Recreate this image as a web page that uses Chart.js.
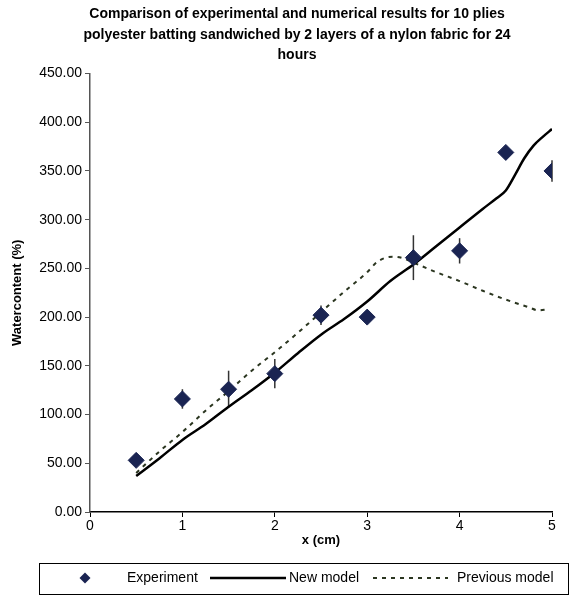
<!DOCTYPE html>
<html><head><meta charset="utf-8">
<script src="https://cdn.jsdelivr.net/npm/chart.js@4/dist/chart.umd.min.js"></script>
<style>html,body{margin:0;padding:0;background:#fff}#wrap{width:574px;height:596px}</style>
</head><body><div id="wrap"><canvas id="c" width="574" height="596"></canvas></div>
<script>
const titleLines = [
  'Comparison of experimental and numerical results for 10 plies',
  'polyester batting sandwiched by 2 layers of a nylon fabric for 24',
  'hours'
];
const xAxisTitle = 'x (cm)';
const yAxisTitle = 'Watercontent (%)';
const legendLabels = ['Experiment', 'New model', 'Previous model'];

const expX   = [0.5, 1, 1.5, 2, 2.5, 3, 3.5, 4, 4.5, 5];
const expY   = [53, 116, 126, 142, 202, 200, 261, 268, 369, 350];
const expErr = [0, 10, 19, 15, 10, 0, 23, 13, 0, 11];

const newX = [0.5, 0.75, 1, 1.25, 1.5, 1.75, 2, 2.25, 2.5, 2.75, 3, 3.25, 3.5, 3.75, 4, 4.25, 4.4, 4.5, 4.6, 4.7, 4.8, 4.9, 5];
const newY = [37, 55, 74, 90, 108, 125, 143, 163, 182, 198, 216, 237, 254, 273, 292, 311, 322, 330, 346, 363, 376, 385, 393];

const prevX = [0.5, 0.75, 1, 1.25, 1.5, 1.75, 2, 2.25, 2.5, 2.75, 3, 3.1, 3.2, 3.3, 3.4, 3.5, 3.75, 4, 4.25, 4.5, 4.75, 4.85, 4.95];
const prevY = [40, 62, 82, 104, 124, 145, 164, 184, 205, 226, 246, 256, 261, 262, 260, 256, 246, 237, 227, 218, 210, 207, 208];

const yMin = 0, yMax = 450, yStep = 50;
const xMin = 0, xMax = 5, xStep = 1;

const FONT = "'Liberation Sans', Arial, Helvetica, sans-serif";
const NAVY = '#1a2452';
const PREV = '#2b3620';

const pts = (xs, ys) => xs.map((x, i) => ({x: x, y: ys[i]}));

const errorBars = {
  id: 'errorBars',
  beforeDatasetsDraw(chart) {
    const {ctx, scales} = chart;
    ctx.save();
    ctx.strokeStyle = '#333';
    ctx.lineWidth = 1.5;
    expX.forEach((x, i) => {
      if (!expErr[i]) return;
      const px = scales.x.getPixelForValue(x);
      const y1 = scales.y.getPixelForValue(expY[i] - expErr[i]);
      const y2 = scales.y.getPixelForValue(expY[i] + expErr[i]);
      ctx.beginPath(); ctx.moveTo(px, y1); ctx.lineTo(px, y2); ctx.stroke();
    });
    ctx.restore();
  }
};

const titleBlock = {
  id: 'titleBlock',
  afterDraw(chart) {
    const ctx = chart.ctx;
    ctx.save();
    ctx.fillStyle = '#000';
    ctx.font = 'bold 14px ' + FONT;
    ctx.textAlign = 'center';
    ctx.textBaseline = 'middle';
    titleLines.forEach((t, i) => ctx.fillText(t, 297, 14.5 + i * 20.5));
    ctx.restore();
  }
};

const legendBox = {
  id: 'legendBox',
  afterDraw(chart) {
    const ctx = chart.ctx;
    const cy = 578;
    ctx.save();
    ctx.strokeStyle = '#000';
    ctx.lineWidth = 1;
    ctx.strokeRect(39.5, 563.5, 529, 31);
    ctx.fillStyle = NAVY;
    ctx.beginPath();
    ctx.moveTo(85, cy - 5.5); ctx.lineTo(90.5, cy); ctx.lineTo(85, cy + 5.5); ctx.lineTo(79.5, cy);
    ctx.closePath(); ctx.fill();
    ctx.strokeStyle = '#000'; ctx.lineWidth = 2.5;
    ctx.beginPath(); ctx.moveTo(210, cy); ctx.lineTo(286, cy); ctx.stroke();
    ctx.strokeStyle = PREV; ctx.lineWidth = 2; ctx.setLineDash([4, 5]);
    ctx.beginPath(); ctx.moveTo(373, cy); ctx.lineTo(448, cy); ctx.stroke();
    ctx.setLineDash([]);
    ctx.fillStyle = '#000';
    ctx.font = '14px ' + FONT;
    ctx.textBaseline = 'middle';
    ctx.textAlign = 'left';
    ctx.fillText(legendLabels[0], 127, cy);
    ctx.fillText(legendLabels[1], 289, cy);
    ctx.fillText(legendLabels[2], 457, cy);
    ctx.restore();
  }
};

new Chart(document.getElementById('c'), {
  type: 'scatter',
  data: {
    datasets: [
      {
        label: legendLabels[0],
        data: pts(expX, expY),
        pointStyle: 'rectRot',
        pointRadius: 8,
        pointBackgroundColor: NAVY,
        pointBorderColor: NAVY,
        showLine: false,
        order: 0
      },
      {
        label: legendLabels[1],
        data: pts(newX, newY),
        showLine: true,
        borderColor: '#000',
        borderWidth: 2.5,
        pointRadius: 0,
        cubicInterpolationMode: 'monotone',
        order: 1
      },
      {
        label: legendLabels[2],
        data: pts(prevX, prevY),
        showLine: true,
        borderColor: PREV,
        borderWidth: 2,
        borderDash: [4, 5],
        pointRadius: 0,
        cubicInterpolationMode: 'monotone',
        order: 2
      }
    ]
  },
  options: {
    responsive: false,
    animation: false,
    devicePixelRatio: 1,
    layout: {padding: {left: 8, right: 22, top: 73.5, bottom: 46}},
    plugins: {legend: {display: false}, title: {display: false}, tooltip: {enabled: false}},
    scales: {
      x: {
        type: 'linear', min: xMin, max: xMax,
        afterFit(s) { s.height = 38; },
        ticks: {stepSize: xStep, color: '#000', font: {family: FONT, size: 14}, padding: 1},
        grid: {drawOnChartArea: false, drawTicks: true, tickLength: 5, color: '#000', tickWidth: 1},
        border: {color: '#000', width: 1.5},
        title: {display: true, text: xAxisTitle, color: '#000', font: {family: FONT, size: 13, weight: 'bold'}, padding: {top: 0, bottom: 2}}
      },
      y: {
        type: 'linear', min: yMin, max: yMax,
        afterFit(s) { s.width = 82; },
        ticks: {stepSize: yStep, color: '#000', font: {family: FONT, size: 14}, padding: 3, callback: v => Number(v).toFixed(2)},
        grid: {drawOnChartArea: false, drawTicks: true, tickLength: 5, color: '#555', tickWidth: 1},
        border: {color: '#555', width: 1.5},
        title: {display: true, text: yAxisTitle, color: '#000', font: {family: FONT, size: 13, weight: 'bold'}, padding: {top: 2, bottom: 0}}
      }
    }
  },
  plugins: [errorBars, titleBlock, legendBox]
});
</script></body></html>
